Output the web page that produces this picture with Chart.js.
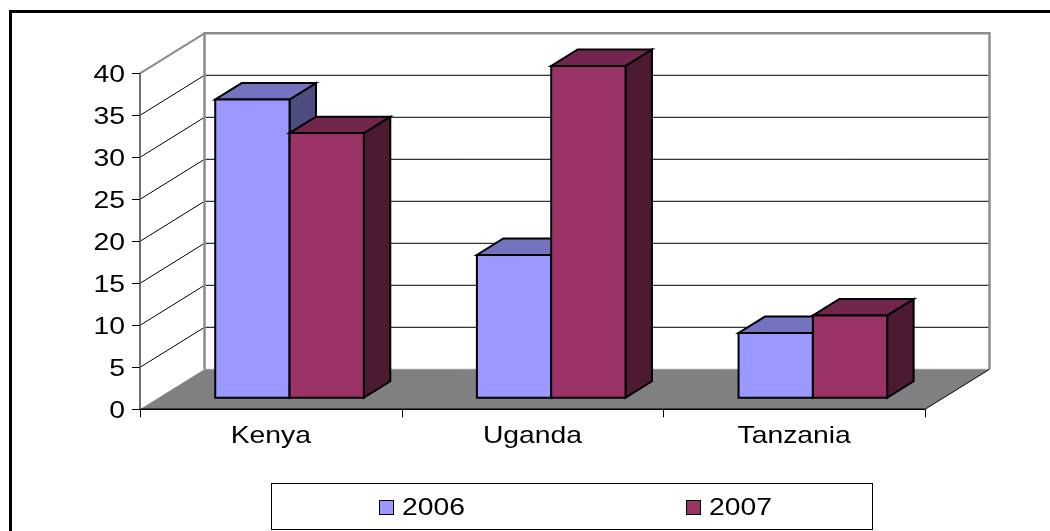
<!DOCTYPE html>
<html><head><meta charset="utf-8">
<script src="https://cdn.jsdelivr.net/npm/chart.js@4/dist/chart.umd.min.js"></script>
<style>html,body{margin:0;padding:0;background:#fff;overflow:hidden}canvas{display:block}</style>
</head><body>
<canvas id="c" width="1050" height="531"></canvas>
<script>
// ---- data ----
const categories = ['Kenya', 'Uganda', 'Tanzania'];
const seriesNames = ['2006', '2007'];
const values2006 = [35.5, 17, 7.7];
const values2007 = [31.5, 39.5, 9.8];
const yTickValues = [0, 5, 10, 15, 20, 25, 30, 35, 40];

// ---- style ----
const FONT = '"Liberation Sans", Arial, sans-serif';
const FONT_SIZE = 24;
const STRETCH = 1.18;
const DEPTH = { x: 64.5, y: -40 };
const BAR_Z0 = 0.29, BAR_Z1 = 0.70;
const palettes = [
  { front: '#9999FF', top: '#7373BF', side: '#4D4D80' },
  { front: '#993366', top: '#73264D', side: '#4D1A33' }
];

function P(x, y, z) { return [x + z * DEPTH.x, y + z * DEPTH.y]; }
function poly(ctx, pts, fill, stroke, lw) {
  ctx.beginPath();
  ctx.moveTo(pts[0][0], pts[0][1]);
  for (let i = 1; i < pts.length; i++) ctx.lineTo(pts[i][0], pts[i][1]);
  ctx.closePath();
  if (fill) { ctx.fillStyle = fill; ctx.fill(); }
  if (stroke) { ctx.strokeStyle = stroke; ctx.lineWidth = lw; ctx.stroke(); }
}
function line(ctx, pts, color, lw) {
  ctx.beginPath();
  ctx.moveTo(pts[0][0], pts[0][1]);
  for (let i = 1; i < pts.length; i++) ctx.lineTo(pts[i][0], pts[i][1]);
  ctx.strokeStyle = color; ctx.lineWidth = lw; ctx.stroke();
}
function sText(ctx, text, x, y, align) {
  ctx.save();
  ctx.font = FONT_SIZE + 'px ' + FONT;
  const w = ctx.measureText(text).width * STRETCH;
  const x0 = align === 'right' ? x - w : align === 'center' ? x - w / 2 : x;
  ctx.translate(x0, y);
  ctx.scale(STRETCH, 1);
  ctx.textAlign = 'left';
  ctx.textBaseline = 'alphabetic';
  ctx.fillStyle = '#000';
  ctx.fillText(text, 0, 0);
  ctx.restore();
}

const plugin3d = {
  id: 'excel3d',
  beforeDatasetsDraw(chart) {
    const ctx = chart.ctx, a = chart.chartArea;
    const ys = chart.scales.y;
    const L = a.left, R = a.right;
    const T = ys.getPixelForValue(yTickValues[yTickValues.length - 1]);
    const B = ys.getPixelForValue(0);
    ctx.save();
    ctx.lineJoin = 'miter';
    // back wall
    poly(ctx, [P(L, T, 1), P(R, T, 1), P(R, B, 1), P(L, B, 1)], '#FFFFFF');
    // side wall
    poly(ctx, [P(L, T, 0), P(L, T, 1), P(L, B, 1), P(L, B, 0)], '#FFFFFF');
    // floor
    poly(ctx, [P(L, B, 0), P(R, B, 0), P(R, B, 1), P(L, B, 1)], '#808080');
    // gridlines
    yTickValues.forEach(v => {
      if (v === 0 || v === yTickValues[yTickValues.length - 1]) return;
      const y = ys.getPixelForValue(v);
      line(ctx, [P(L, y, 0), P(L, y, 1), P(R, y, 1)], '#000', 1);
    });
    // wall borders
    line(ctx, [P(L, B, 1), P(L, T, 1), P(R, T, 1), P(R, B, 1)], '#8C8C8C', 2.5);
    line(ctx, [P(L, T, 0), P(L, T, 1)], '#8C8C8C', 2);
    line(ctx, [P(L, B, 1), P(R, B, 1)], '#9A9A9A', 1);
    // floor right edge
    line(ctx, [P(R, B, 0), P(R, B, 1)], '#000', 1);
    // front value axis
    line(ctx, [P(L, T, 0), P(L, B, 0)], '#707070', 2);
    // x axis
    line(ctx, [[L, B], [R, B]], '#000', 1.5);
    // y ticks
    yTickValues.forEach(v => {
      const y = Math.round(ys.getPixelForValue(v)) + 0.5;
      line(ctx, [[L - 8, y], [L, y]], '#000', 1);
    });
    // x ticks at category boundaries
    const n = categories.length;
    for (let i = 0; i <= n; i++) {
      const x = Math.round(L + (R - L) * i / n) + 0.5;
      line(ctx, [[x, B], [x, B + 8]], '#000', 1);
    }
    // bars, painted left to right
    const metas = chart.data.datasets.map((d, i) => chart.getDatasetMeta(i));
    for (let i = 0; i < n; i++) {
      metas.forEach((meta, di) => {
        const el = meta.data[i];
        const p = el.getProps(['x', 'y', 'base', 'width'], true);
        const l = p.x - p.width / 2, r = p.x + p.width / 2;
        const pal = palettes[di];
        poly(ctx, [P(r, p.y, BAR_Z0), P(r, p.y, BAR_Z1), P(r, p.base, BAR_Z1), P(r, p.base, BAR_Z0)], pal.side, '#000', 2);
        poly(ctx, [P(l, p.y, BAR_Z0), P(r, p.y, BAR_Z0), P(r, p.y, BAR_Z1), P(l, p.y, BAR_Z1)], pal.top, '#000', 2);
        poly(ctx, [P(l, p.y, BAR_Z0), P(r, p.y, BAR_Z0), P(r, p.base, BAR_Z0), P(l, p.base, BAR_Z0)], pal.front, '#000', 2);
      });
    }
    ctx.restore();
    return false;
  },
  afterDraw(chart) {
    const ctx = chart.ctx, a = chart.chartArea;
    const xs = chart.scales.x, ys = chart.scales.y;
    const capH = FONT_SIZE * 0.716;
    // value labels
    yTickValues.forEach(v => {
      const y = ys.getPixelForValue(v);
      sText(ctx, String(v), a.left - 15, y + capH / 2, 'right');
    });
    // category labels
    categories.forEach((c, i) => {
      sText(ctx, c, xs.getPixelForValue(i), 443, 'center');
    });
    // legend
    ctx.save();
    ctx.fillStyle = '#fff';
    ctx.fillRect(271, 483, 601, 46);
    ctx.strokeStyle = '#000'; ctx.lineWidth = 1;
    ctx.strokeRect(271.5, 483.5, 601, 46);
    const legendX = [379, 686];
    chart.data.datasets.forEach((d, di) => {
      const x = legendX[di];
      ctx.fillStyle = palettes[di].front;
      ctx.fillRect(x, 500, 14, 14);
      ctx.strokeStyle = '#000'; ctx.lineWidth = 1;
      ctx.strokeRect(x + 0.5, 500.5, 14, 14);
      sText(ctx, d.label, x + 23, 515, 'left');
    });
    // outer frame
    ctx.strokeStyle = '#000'; ctx.lineWidth = 3;
    ctx.strokeRect(10.5, 11.5, 3000, 3000);
    ctx.restore();
  }
};

new Chart(document.getElementById('c'), {
  type: 'bar',
  data: {
    labels: categories,
    datasets: [
      { label: seriesNames[0], data: values2006, backgroundColor: palettes[0].front, borderColor: '#000', borderWidth: 2 },
      { label: seriesNames[1], data: values2007, backgroundColor: palettes[1].front, borderColor: '#000', borderWidth: 2 }
    ]
  },
  options: {
    responsive: false,
    animation: false,
    devicePixelRatio: 1,
    layout: { padding: { left: 140, right: 125, top: 73.3, bottom: 121.7 } },
    datasets: { bar: { categoryPercentage: 0.568, barPercentage: 1 } },
    plugins: { legend: { display: false }, tooltip: { enabled: false }, title: { display: false } },
    scales: {
      x: { display: false, offset: true },
      y: { display: false, min: 0, max: 40, ticks: { stepSize: 5 } }
    }
  },
  plugins: [plugin3d]
});
</script>
</body></html>
